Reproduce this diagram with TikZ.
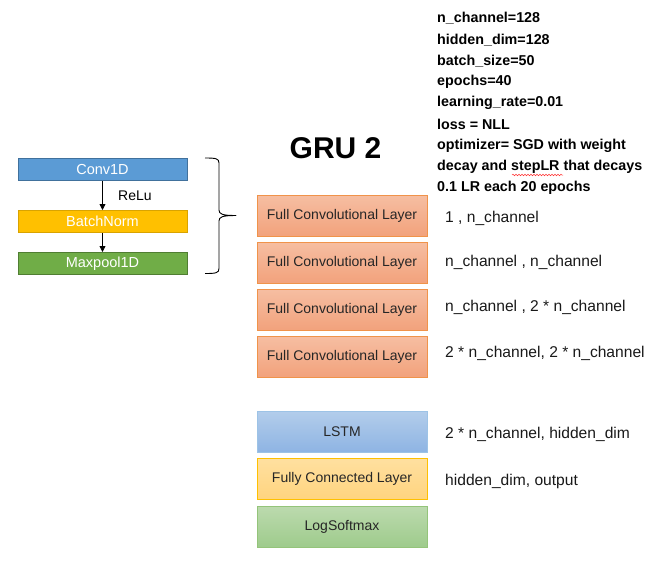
\documentclass[tikz,border=0pt]{standalone}
\usepackage{fontspec}
\setmainfont{Liberation Sans}
\usetikzlibrary{decorations.pathmorphing,arrows.meta}
\definecolor{orTop}{HTML}{F6BEA2}
\definecolor{orBot}{HTML}{F2A27C}
\definecolor{orBd}{HTML}{F0934A}
\definecolor{blTop}{HTML}{B3CDEB}
\definecolor{blBot}{HTML}{8EB4E3}
\definecolor{blBd}{HTML}{9DC3E6}
\definecolor{yeTop}{HTML}{FFE0A0}
\definecolor{yeBot}{HTML}{FFD47F}
\definecolor{yeBd}{HTML}{FFC000}
\definecolor{grTop}{HTML}{BCDAAE}
\definecolor{grBot}{HTML}{9ECB8C}
\definecolor{grBd}{HTML}{94C47A}
\definecolor{cBlue}{HTML}{5B9BD5}
\definecolor{cBlueBd}{HTML}{41719C}
\definecolor{cYel}{HTML}{FFC000}
\definecolor{cYelBd}{HTML}{D9A300}
\definecolor{cGrn}{HTML}{70AD47}
\definecolor{cGrnBd}{HTML}{507E32}
\begin{document}
\begin{tikzpicture}[x=1pt,y=-1pt,
  smallbox/.style={draw, line width=1pt, minimum width=169pt, minimum height=22pt, inner sep=0pt, text=white, font=\fontsize{14.5}{16}\selectfont},
  bigbox/.style={draw, line width=1pt, minimum width=170pt, minimum height=41pt, inner sep=0pt, text=black!85, font=\fontsize{14}{16}\selectfont},
  orbox/.style={bigbox, top color=orTop, bottom color=orBot, draw=orBd},
  lbl/.style={anchor=west, inner sep=0pt, font=\fontsize{15.6}{18}\selectfont, text=black!90},
  par/.style={anchor=west, inner sep=0pt, font=\bfseries\fontsize{14.3}{16}\selectfont},
  arr/.style={-{Triangle[length=6pt,width=6pt]}, line width=0.8pt}
]
\useasboundingbox (0,0) rectangle (655,563);
\fill[white] (0,0) rectangle (655,563);

% left stack
\node[smallbox, fill=cBlue, draw=cBlueBd] (conv) at (102.5,169.5) {Conv1D};
\node[smallbox, fill=cYel, draw=cYelBd] (bn) at (102.5,221.5) {BatchNorm};
\node[smallbox, fill=cGrn, draw=cGrnBd] (mp) at (102.5,263.5) {Maxpool1D};
\draw[arr] (conv) -- (bn);
\draw[arr] (bn) -- (mp);
\node[anchor=west, inner sep=0pt, font=\fontsize{14}{16}\selectfont] (relu) at (118,196) {ReLu};

% brace
\coordinate (bt) at (205,158);
\coordinate (bb) at (205,273.5);
\coordinate (tip) at (236,215.5);
\draw[line width=0.9pt, line join=round]
  (bt) .. controls (216,158) and (219,158.5) .. (219,163)
  -- (219,210) .. controls (219,214) and (222,215.5) .. (tip)
  .. controls (222,215.5) and (219,217) .. (219,221)
  -- (219,268.5) .. controls (219,273) and (216,273.5) .. (bb);

% title
\node[font=\bfseries\fontsize{30}{34}\selectfont, inner sep=0pt] (title) at (335.5,148) {GRU 2};

% right stack
\node[orbox] (f1) at (342,215.5) {Full Convolutional Layer};
\node[orbox] (f2) at (342,262.5) {Full Convolutional Layer};
\node[orbox] (f3) at (342,309.5) {Full Convolutional Layer};
\node[orbox] (f4) at (342,356.5) {Full Convolutional Layer};
\node[bigbox, top color=blTop, bottom color=blBot, draw=blBd] (lstm) at (342,431.5) {LSTM};
\node[bigbox, top color=yeTop, bottom color=yeBot, draw=yeBd] (fc) at (342,478.5) {Fully Connected Layer};
\node[bigbox, top color=grTop, bottom color=grBot, draw=grBd] (ls) at (342,526.5) {LogSoftmax};

% labels
\node[lbl] (l1) at (445,218.5) {1 , n\_channel};
\node[lbl] (l2) at (445,262.5) {n\_channel , n\_channel};
\node[lbl] (l3) at (445,307.5) {n\_channel , 2 * n\_channel};
\node[lbl] (l4) at (445,353.5) {2 * n\_channel, 2 * n\_channel};
\node[lbl] (l5) at (445,434.5) {2 * n\_channel, hidden\_dim};
\node[lbl] (l6) at (445,481.5) {hidden\_dim, output};

% parameters
\node[par] (p1) at (437,18.5) {n\_channel=128};
\node[par] (p2) at (437,40) {hidden\_dim=128};
\node[par] (p3) at (437,61) {batch\_size=50};
\node[par] (p4) at (437,82) {epochs=40};
\node[par] (p5) at (437,103) {learning\_rate=0.01};
\node[par] (p6) at (437,124.5) {loss = NLL};
\node[par] (p7) at (437,145.5) {optimizer= SGD with weight};
\node[par] (p8) at (437,166.5) {decay and stepLR that decays};
\node[par] (p9) at (437,187.5) {0.1 LR each 20 epochs};
\coordinate (sq1) at (512,175);
\coordinate (sq2) at (563,175);
\draw[red!80, line width=0.5pt, decorate, decoration={snake, amplitude=0.8pt, segment length=3pt}] (sq1) -- (sq2);
\end{tikzpicture}
\end{document}
